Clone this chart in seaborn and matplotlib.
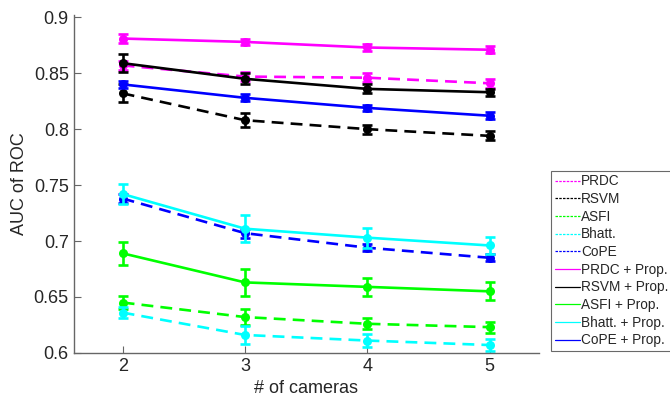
import numpy as np
import pandas as pd
import seaborn as sns
import matplotlib.pyplot as plt
from matplotlib.lines import Line2D

# number of cameras
cameras = [2, 3, 4, 5]

# baseline methods (dashed)
prdc = [0.857, 0.847, 0.846, 0.841]
rsvm = [0.832, 0.808, 0.800, 0.794]
asfi = [0.645, 0.632, 0.626, 0.623]
bhatt = [0.636, 0.616, 0.611, 0.607]
cope = [0.738, 0.707, 0.694, 0.685]

# methods + proposed (solid)
prdc_prop = [0.881, 0.878, 0.873, 0.871]
rsvm_prop = [0.859, 0.845, 0.836, 0.833]
asfi_prop = [0.689, 0.663, 0.659, 0.655]
bhatt_prop = [0.742, 0.711, 0.703, 0.696]
cope_prop = [0.840, 0.828, 0.819, 0.812]

# error bar half-widths
prdc_err = [0.004, 0.004, 0.004, 0.004]
rsvm_err = [0.008, 0.006, 0.004, 0.004]
asfi_err = [0.006, 0.007, 0.005, 0.005]
bhatt_err = [0.005, 0.008, 0.006, 0.005]
cope_err = [0.004, 0.004, 0.003, 0.003]
prdc_prop_err = [0.004, 0.003, 0.003, 0.003]
rsvm_prop_err = [0.008, 0.005, 0.004, 0.003]
asfi_prop_err = [0.010, 0.012, 0.008, 0.008]
bhatt_prop_err = [0.009, 0.012, 0.009, 0.008]
cope_prop_err = [0.003, 0.003, 0.003, 0.003]

names = ['PRDC', 'RSVM', 'ASFI', 'Bhatt.', 'CoPE',
         'PRDC + Prop.', 'RSVM + Prop.', 'ASFI + Prop.', 'Bhatt. + Prop.', 'CoPE + Prop.']
values = [prdc, rsvm, asfi, bhatt, cope,
          prdc_prop, rsvm_prop, asfi_prop, bhatt_prop, cope_prop]
errors = [prdc_err, rsvm_err, asfi_err, bhatt_err, cope_err,
          prdc_prop_err, rsvm_prop_err, asfi_prop_err, bhatt_prop_err, cope_prop_err]
colors = ['#ff00ff', '#000000', '#00ff00', '#00ffff', '#0000ff'] * 2
dashed = [True] * 5 + [False] * 5

sns.set_style('white')
plt.rcParams['font.family'] = ['Liberation Sans', 'DejaVu Sans']

fig = plt.figure(figsize=(6.70, 4.07), dpi=100)
ax = fig.add_axes([0.110, 0.133, 0.694, 0.830])

for name, vals, err, c, d in zip(names, values, errors, colors, dashed):
    ls = (0, (4.5, 2.7)) if d else '-'
    sns.lineplot(x=cameras, y=vals, ax=ax, color=c, linewidth=1.9,
                 marker='o', markersize=6.5, markeredgewidth=0,
                 label=name, legend=False)
    ax.lines[-1].set_linestyle(ls)
    ax.errorbar(cameras, vals, yerr=err, fmt='none', ecolor=c,
                elinewidth=1.9, capsize=3.5, capthick=1.9)

ax.set_xlim(1.6, 5.4)
ax.set_ylim(0.6, 0.902)
ax.set_xticks(cameras)
ax.set_yticks([0.6, 0.65, 0.7, 0.75, 0.8, 0.85, 0.9])
ax.set_yticklabels(['0.6', '0.65', '0.7', '0.75', '0.8', '0.85', '0.9'])
ax.set_xlabel('# of cameras', fontsize=13, color='#262626')
ax.set_ylabel('AUC of ROC', fontsize=13, color='#262626')
ax.tick_params(direction='in', length=5, labelsize=13, colors='#666666',
               labelcolor='#262626', left=True, bottom=True)
for s in ['top', 'right']:
    ax.spines[s].set_visible(False)
for s in ['left', 'bottom']:
    ax.spines[s].set_color('#666666')
    ax.spines[s].set_linewidth(1.0)

handles = [Line2D([0], [0], color=c, linewidth=0.9,
                  linestyle=(0, (2, 1)) if d else '-')
           for c, d in zip(colors, dashed)]
leg = fig.legend(handles, names, loc='upper left', bbox_to_anchor=(0.823, 0.580),
                 fontsize=9.8, frameon=True, fancybox=False, handlelength=1.85,
                 handletextpad=0.1, borderpad=0.25, labelspacing=0.27,
                 borderaxespad=0)
leg.get_frame().set_edgecolor('#444444')
leg.get_frame().set_linewidth(0.8)
for t in leg.get_texts():
    t.set_color('#262626')

fig.savefig('out.png', dpi=100)
